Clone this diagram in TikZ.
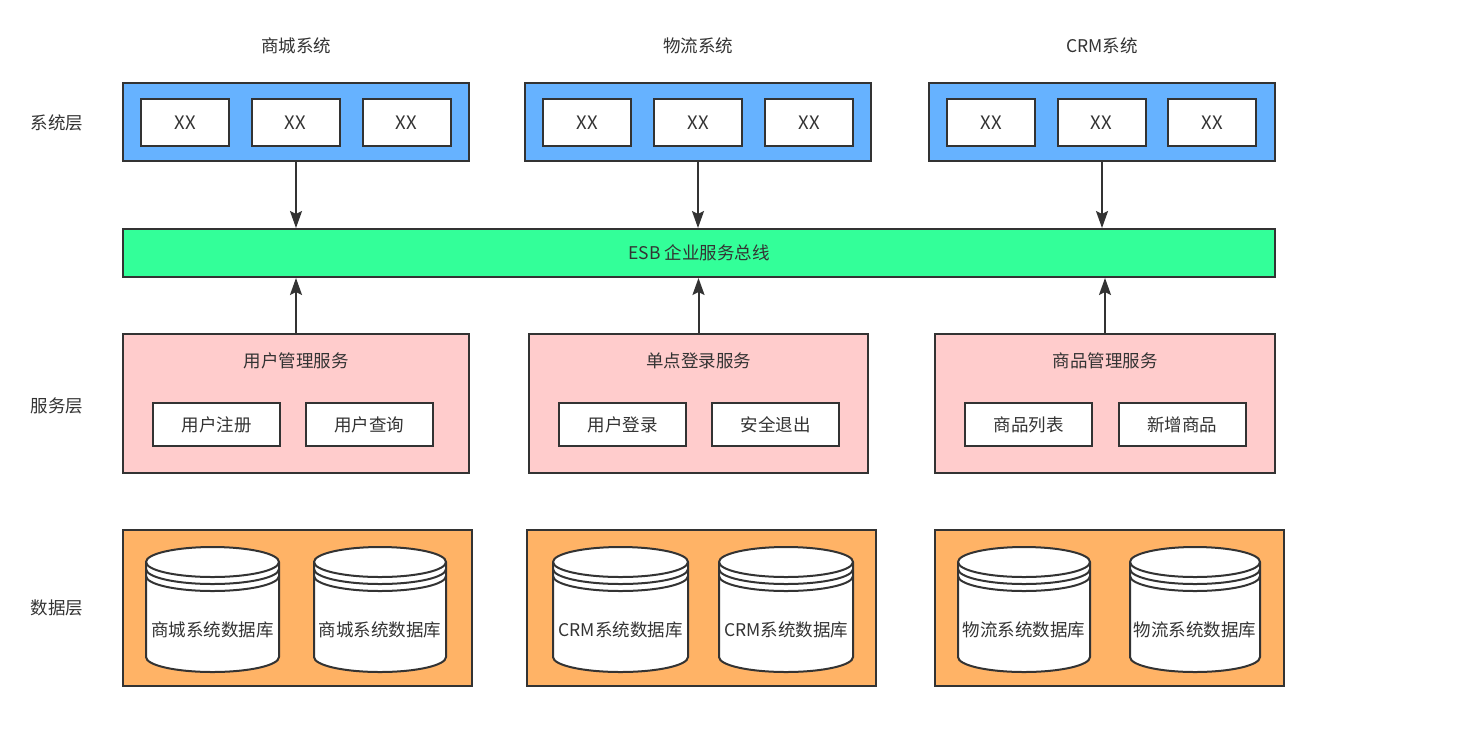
\documentclass[tikz,border=0pt]{standalone}
\usepackage{fontspec}
\setmainfont{Noto Sans CJK SC}
\usetikzlibrary{arrows.meta}
\definecolor{ink}{HTML}{333333}
\definecolor{sysblue}{HTML}{66B2FF}
\definecolor{esbgreen}{HTML}{33FF99}
\definecolor{svcpink}{HTML}{FFCCCC}
\definecolor{dataorange}{HTML}{FFB366}
\tikzset{
  txt/.style={text=ink, font=\fontsize{17.5}{19}\selectfont, inner sep=0pt},
  boxbase/.style={draw=ink, line width=2pt, inner sep=0pt, text=ink, font=\fontsize{17.5}{19}\selectfont},
  sysbox/.style={boxbase, fill=sysblue, minimum width=346pt, minimum height=78pt},
  xxbox/.style={boxbase, fill=white, minimum width=88pt, minimum height=47pt, font=\fontsize{18.5}{20}\selectfont},
  esbbox/.style={boxbase, fill=esbgreen, minimum width=1152pt, minimum height=48pt},
  svcbox/.style={boxbase, fill=svcpink, minimum height=139pt},
  subbox/.style={boxbase, fill=white, minimum width=127pt, minimum height=43pt},
  databox/.style={boxbase, fill=dataorange, minimum width=349pt, minimum height=156pt},
  dbline/.style={draw=ink, line width=2pt},
  arr/.style={draw=ink, line width=2pt, -{Stealth[length=17pt,width=12pt,inset=3pt]}},
}
\newcommand\mydbcyl[4]{%
  \pgfmathsetmacro\hw{#2/2}
  \fill[white] (#1,-562) -- (#1,-657) arc[start angle=180,end angle=360,x radius=\hw,y radius=15] -- ({#1+#2},-562) arc[start angle=0,end angle=180,x radius=\hw,y radius=15] -- cycle;
  \draw[dbline] (#1,-562) -- (#1,-657) arc[start angle=180,end angle=360,x radius=\hw,y radius=15] -- ({#1+#2},-562) arc[start angle=0,end angle=180,x radius=\hw,y radius=15] -- cycle;
  \draw[dbline] (#1,-562) arc[start angle=180,end angle=360,x radius=\hw,y radius=15];
  \draw[dbline] (#1,-569) arc[start angle=180,end angle=360,x radius=\hw,y radius=15];
  \draw[dbline] (#1,-576) arc[start angle=180,end angle=360,x radius=\hw,y radius=15];
  \node[txt] (#3) at ({#1+\hw},-630) {#4};
}
\begin{document}
\begin{tikzpicture}[x=1pt,y=1pt]
\useasboundingbox[fill=white] (0,0) rectangle (1482,-745);

% titles
\node[txt] (t1) at (296,-46) {商城系统};
\node[txt] (t2) at (698,-46) {物流系统};
\node[txt] (t3) at (1102,-46) {CRM系统};

% layer labels
\node[txt] (l1) at (57,-123) {系统层};
\node[txt] (l2) at (57,-406) {服务层};
\node[txt] (l3) at (57,-608) {数据层};

% system layer
\node[sysbox] (s1) at (296,-122) {};
\node[sysbox] (s2) at (698,-122) {};
\node[sysbox] (s3) at (1102,-122) {};
\node[xxbox] (x11) at (185,-122.5) {XX};
\node[xxbox] (x12) at (295.5,-122.5) {XX};
\node[xxbox] (x13) at (406.5,-122.5) {XX};
\node[xxbox] (x21) at (587,-122.5) {XX};
\node[xxbox] (x22) at (698,-122.5) {XX};
\node[xxbox] (x23) at (809,-122.5) {XX};
\node[xxbox] (x31) at (991,-122.5) {XX};
\node[xxbox] (x32) at (1101.5,-122.5) {XX};
\node[xxbox] (x33) at (1212,-122.5) {XX};

% ESB
\node[esbbox] (esb) at (699,-253) {ESB 企业服务总线};

% service layer
\node[svcbox, minimum width=346pt] (v1) at (296,-403.5) {};
\node[svcbox, minimum width=339pt] (v2) at (698.5,-403.5) {};
\node[svcbox, minimum width=340pt] (v3) at (1105,-403.5) {};
\node[txt] (v1t) at (296,-361) {用户管理服务};
\node[txt] (v2t) at (698.5,-361) {单点登录服务};
\node[txt] (v3t) at (1105,-361) {商品管理服务};
\node[subbox] (u1) at (216.5,-424.5) {用户注册};
\node[subbox] (u2) at (369,-424.5) {用户查询};
\node[subbox] (u3) at (622.5,-424.5) {用户登录};
\node[subbox] (u4) at (775.5,-424.5) {安全退出};
\node[subbox] (u5) at (1028.5,-424.5) {商品列表};
\node[subbox] (u6) at (1182,-424.5) {新增商品};

% arrows
\draw[arr] (s1.south) -- (esb.north -| s1.south);
\draw[arr] (s2.south) -- (esb.north -| s2.south);
\draw[arr] (s3.south) -- (esb.north -| s3.south);
\draw[arr] (v1.north) -- (esb.south -| v1.north);
\draw[arr] (v2.north) -- (esb.south -| v2.north);
\draw[arr] (v3.north) -- (esb.south -| v3.north);

% data layer
\node[databox] (d1) at (297,-608) {};
\node[databox] (d2) at (701.5,-608) {};
\node[databox] (d3) at (1109.5,-608) {};
\mydbcyl{146}{133}{db1}{商城系统数据库}
\mydbcyl{314}{132}{db2}{商城系统数据库}
\mydbcyl{553}{135}{db3}{CRM系统数据库}
\mydbcyl{719}{134}{db4}{CRM系统数据库}
\mydbcyl{958}{132}{db5}{物流系统数据库}
\mydbcyl{1130}{130}{db6}{物流系统数据库}
\end{tikzpicture}
\end{document}
